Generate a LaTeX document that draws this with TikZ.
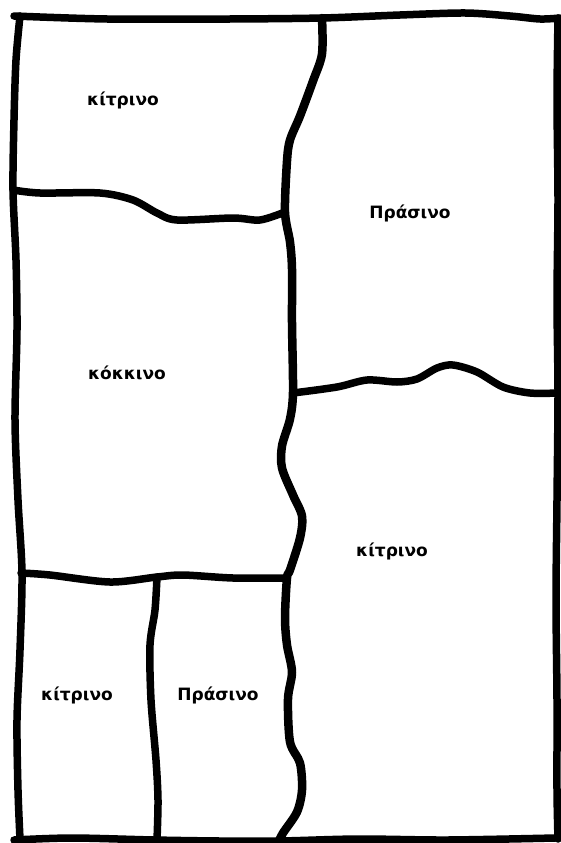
\documentclass[tikz,border=0pt]{standalone}
\usepackage{fontspec}
\setmainfont{DejaVu Sans}
\begin{document}
\begin{tikzpicture}[x=1pt,y=-1pt,
  wall/.style={line width=7.5pt, line cap=round, line join=round},
  lbl/.style={font=\fontsize{17}{20}\selectfont\bfseries, inner sep=0pt}]
\useasboundingbox (0,0) rectangle (561,843);
\fill[white] (0,0) rectangle (561,843);
% outer frame
\draw[wall] plot[smooth] coordinates {(14,16) (107,19) (230,19) (322,18) (400,15) (465,13) (510,16) (540,19) (560,18)};
\draw[wall] plot[smooth] coordinates {(20,16) (16,60) (14,120) (13,190) (16,260) (17,330) (15,420) (18,500) (22,573) (20,650) (17,720) (18,790) (20,839)};
\draw[wall] plot[smooth] coordinates {(558,18) (557,100) (558,200) (557,300) (558,393) (557,500) (556,600) (557,700) (557,790) (558,839)};
\draw[wall] plot[smooth] coordinates {(14,840) (72,838) (154,840) (220,841) (280,841) (358,839) (447,840) (555,838)};
% main vertical divider
\draw[wall, line width=8.5pt] plot[smooth] coordinates {(322,18) (322,54) (313,81) (300,116) (290,140) (287,161) (285,212) (290,242) (292,269) (292,323) (293,392) (290,419) (282,446) (282,468) (293,495) (302,516) (300,538) (290,570) (287,578) (285,618) (287,645) (292,672) (288,699) (290,742) (300,763) (302,790) (297,812) (283,833) (278,843)};
% horizontal dividers
\draw[wall] plot[smooth] coordinates {(13,190) (40,193) (100,193) (133,200) (157,213) (177,220) (233,218) (260,220) (285,212)};
\draw[wall] plot[smooth] coordinates {(293,393) (337,387) (367,380) (397,382) (417,379) (437,368) (453,365) (477,372) (503,387) (530,393) (558,393)};
\draw[wall] plot[smooth] coordinates {(21,573) (50,575) (110,582) (157,577) (183,575) (233,578) (287,578)};
% lower-left vertical
\draw[wall] plot[smooth] coordinates {(157,577) (155,610) (150,645) (151,700) (156,760) (158,800) (157,840)};
% labels
\node[lbl] (t1) at (123,100) {κίτρινο};
\node[lbl] (t2) at (410,213) {Πράσινο};
\node[lbl] (t3) at (127,373) {κόκκινο};
\node[lbl] (t4) at (392,551) {κίτρινο};
\node[lbl] (t5) at (77,695) {κίτρινο};
\node[lbl] (t6) at (218,695) {Πράσινο};
\end{tikzpicture}
\end{document}
